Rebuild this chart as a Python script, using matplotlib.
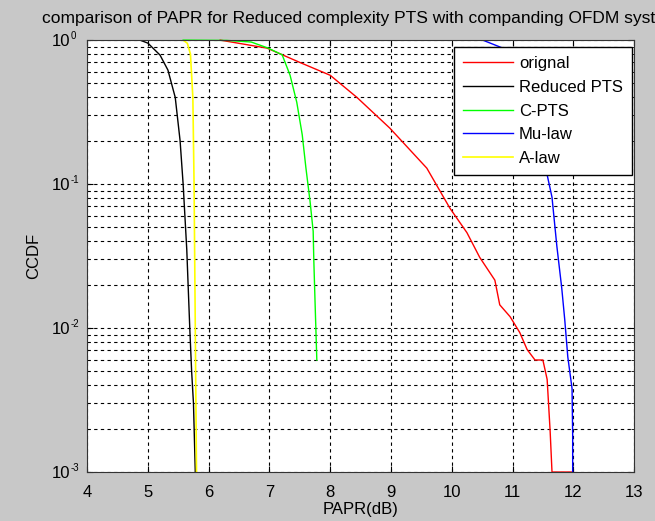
import matplotlib
matplotlib.use('Agg')
import matplotlib.pyplot as plt
from matplotlib.transforms import offset_copy

plt.rcParams['font.family'] = ['Liberation Sans', 'DejaVu Sans']

# values (PAPR in dB, CCDF)
orig_x = [6.19, 6.96, 7.50, 8.00, 8.44, 8.98, 9.59, 9.97, 10.25, 10.46, 10.71, 10.79,
          10.96, 11.12, 11.24, 11.37, 11.50, 11.57, 11.62, 11.65, 11.98]
orig_y = [1.0, 0.88, 0.70, 0.57, 0.40, 0.245, 0.129, 0.068, 0.046, 0.031, 0.0215, 0.0145,
          0.012, 0.0093, 0.0071, 0.006, 0.006, 0.0044, 0.0019, 0.001, 0.001]

rpts_x = [4.87, 5.00, 5.20, 5.33, 5.45, 5.53, 5.58, 5.64, 5.69, 5.72, 5.75, 5.78]
rpts_y = [1.0, 0.953, 0.787, 0.619, 0.40, 0.20, 0.1, 0.035, 0.0098, 0.005, 0.003, 0.001]

cpts_x = [5.58, 6.30, 6.70, 6.98, 7.21, 7.34, 7.45, 7.54, 7.60, 7.67, 7.72, 7.73, 7.75, 7.78]
cpts_y = [1.0, 0.995, 0.97, 0.88, 0.79, 0.57, 0.37, 0.22, 0.13, 0.075, 0.047, 0.03, 0.0156, 0.006]

mu_x = [10.51, 10.84, 11.57, 11.65, 11.73, 11.81, 11.86, 11.91, 11.98, 11.99, 11.99]
mu_y = [1.0, 0.88, 0.116, 0.081, 0.037, 0.019, 0.0114, 0.0063, 0.0038, 0.0018, 0.001]

alaw_x = [5.58, 5.65, 5.70, 5.74, 5.76, 5.78, 5.80]
alaw_y = [1.0, 0.95, 0.80, 0.40, 0.10, 0.01, 0.001]

decades = [0, -1, -2, -3]

fig = plt.figure(figsize=(6.55, 5.21), dpi=100, facecolor='#c8c8c8')
ax = fig.add_axes([0.133, 0.094, 0.835, 0.829])

ax.semilogy(orig_x, orig_y, color='#ff0000', lw=1, label='orignal', clip_on=False)
ax.semilogy(rpts_x, rpts_y, color='k', lw=1, label='Reduced PTS')
ax.semilogy(cpts_x, cpts_y, color='#00ff00', lw=1, label='C-PTS', clip_on=False)
ax.semilogy(mu_x, mu_y, color='#0000ff', lw=1, label='Mu-law')
ax.semilogy(alaw_x, alaw_y, color='#ffff00', lw=1.2, label='A-law')

ax.set_xlim(4, 13)
ax.set_ylim(1e-3, 1)
ax.set_xticks(range(4, 14))
ax.set_yticks([10.0 ** e for e in decades])
ax.set_yticklabels(['10'] * len(decades))
ax.grid(True, which='major', axis='both', color='k', ls=(0, (3, 3)), lw=0.8)
ax.grid(True, which='minor', axis='y', color='k', ls=(0, (3, 3)), lw=0.8)
ax.tick_params(which='both', direction='in', top=True, right=True, labelsize=12)
ax.tick_params(which='major', length=4)
ax.tick_params(which='minor', length=2)
ax.tick_params(axis='x', pad=9)
ax.tick_params(axis='y', pad=12.5)
for s in ax.spines.values():
    s.set_color('#333333')

# MATLAB-style small exponents next to the "10" labels
exp_tr = offset_copy(ax.get_yaxis_transform(), fig=fig, x=-16.5, y=1.5, units='dots')
for e in decades:
    ax.text(0, 10.0 ** e, str(e), transform=exp_tr, ha='left', va='baseline',
            fontsize=7, clip_on=False)

ax.set_title('comparison of PAPR for Reduced complexity PTS with companding OFDM system',
             fontsize=12.5, pad=12)
ax.set_xlabel('PAPR(dB)', fontsize=12, labelpad=2)
ax.set_ylabel('CCDF', fontsize=12, labelpad=7)

leg = ax.legend(loc='upper right', bbox_to_anchor=(0.996, 0.984), fontsize=12,
                fancybox=False, framealpha=1, edgecolor='k', borderaxespad=0,
                borderpad=0.55, handlelength=3.0, handletextpad=0.35, labelspacing=0.52)
leg.get_frame().set_linewidth(1)

fig.savefig('out.png', dpi=100, facecolor=fig.get_facecolor())
